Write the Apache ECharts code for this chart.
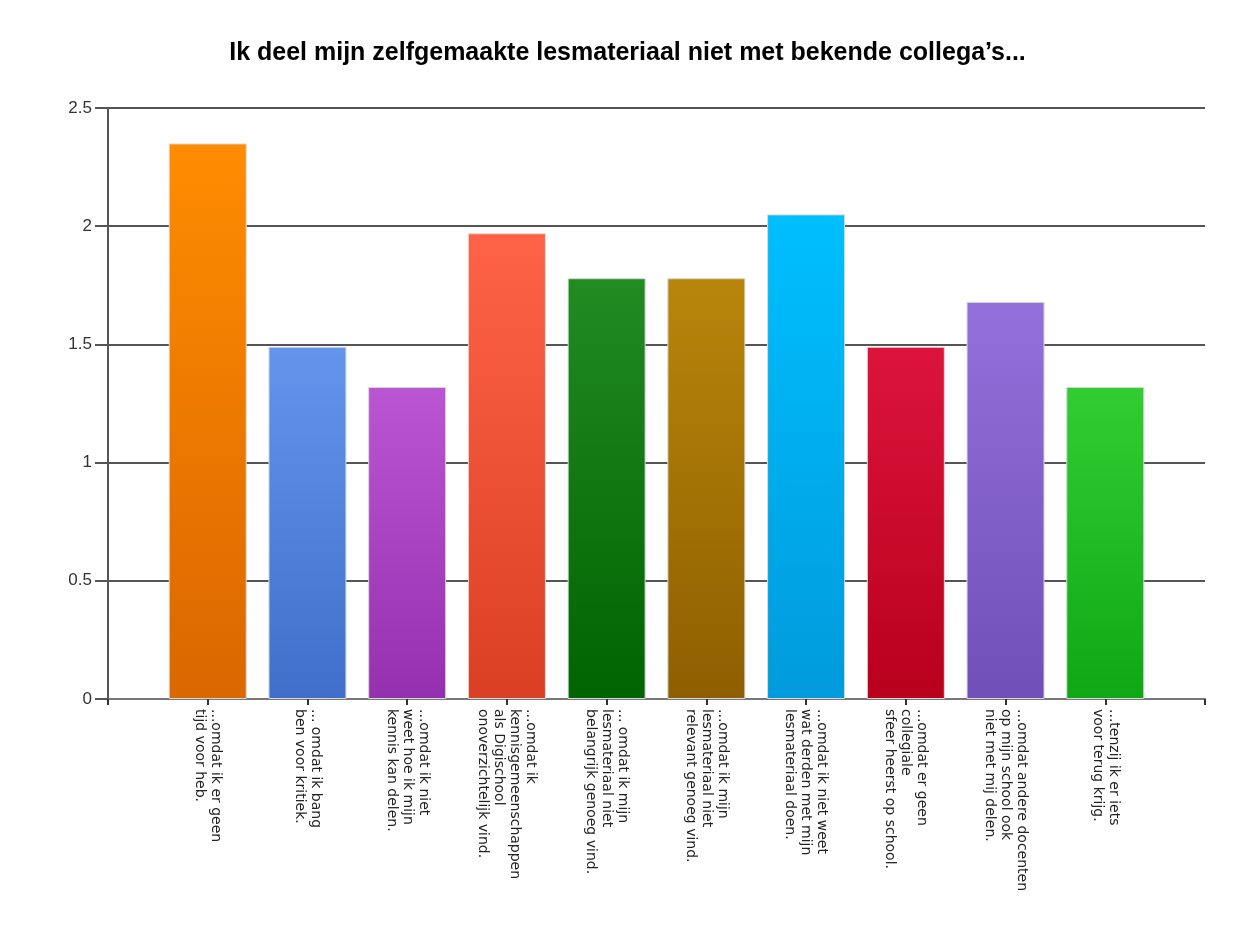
<!DOCTYPE html>
<html>
<head>
<meta charset="utf-8">
<script src="https://cdn.jsdelivr.net/npm/echarts@6/dist/echarts.min.js"></script>
<style>html,body{margin:0;padding:0;background:#fff;}#chart{width:1255px;height:930px;}</style>
</head>
<body>
<div id="chart"></div>
<script>
var titleText = "Ik deel mijn zelfgemaakte lesmateriaal niet met bekende collega\u2019s...";
var categories = [
  "...omdat ik er geen\ntijd voor heb.",
  "... omdat ik bang\nben voor kritiek.",
  "...omdat ik niet\nweet hoe ik mijn\nkennis kan delen.",
  "...omdat ik\nkennisgemeenschappen\nals Digischool\nonoverzichtelijk vind.",
  "... omdat ik mijn\nlesmateriaal niet\nbelangrijk genoeg vind.",
  "...omdat ik mijn\nlesmateriaal niet\nrelevant genoeg vind.",
  "...omdat ik niet weet\nwat derden met mijn\nlesmateriaal doen.",
  "...omdat er geen\ncollegiale\nsfeer heerst op school.",
  "...omdat andere docenten\nop mijn school ook\nniet met mij delen.",
  "...tenzij ik er iets\nvoor terug krijg."
];
var values = [2.35, 1.49, 1.32, 1.97, 1.78, 1.78, 2.05, 1.49, 1.68, 1.32];
var topColors = ["#FF8C00", "#6495ED", "#BA55D3", "#FF6347", "#228B22", "#B8860B", "#00BFFF", "#DC143C", "#9370DB", "#32CD32"];
var bottomColors = ["#DA6700", "#3F6FCA", "#9530B0", "#DA3F24", "#006400", "#8E5F00", "#009BDC", "#B8001D", "#714FB8", "#0FA815"];

var chart = echarts.init(document.getElementById('chart'));
var xData = [''].concat(categories).concat(['']);
var barData = [null].concat(values.map(function (v, i) {
  return {
    value: v,
    itemStyle: {
      color: new echarts.graphic.LinearGradient(0, 0, 0, 1, [
        {offset: 0, color: topColors[i]},
        {offset: 1, color: bottomColors[i]}
      ]),
      borderColor: '#d8d8d8',
      borderWidth: 1
    }
  };
})).concat([null]);

chart.setOption({
  backgroundColor: '#ffffff',
  animation: false,
  title: {
    text: titleText,
    left: 'center',
    top: 36,
    textStyle: {fontFamily: 'Liberation Sans, Arial, sans-serif', fontSize: 25, fontWeight: 'bold', color: '#000'}
  },
  grid: {left: 108, right: 50, top: 108, bottom: 231, containLabel: false},
  xAxis: {
    type: 'category',
    data: xData,
    boundaryGap: false,
    axisLine: {show: true, lineStyle: {color: '#777', width: 2}},
    axisTick: {show: true, interval: 0, length: 6, lineStyle: {color: '#333', width: 2}},
    axisLabel: {
      interval: 0,
      rotate: -90,
      margin: 10,
      fontFamily: 'DejaVu Sans, sans-serif',
      fontSize: 14,
      lineHeight: 16,
      color: '#222'
    },
    splitLine: {show: false}
  },
  yAxis: {
    type: 'value',
    min: 0,
    max: 2.5,
    interval: 0.5,
    axisLine: {show: true, lineStyle: {color: '#555', width: 2}},
    axisTick: {show: true, length: 13, lineStyle: {color: '#555', width: 2}},
    axisLabel: {margin: 16, fontFamily: 'Liberation Sans, Arial, sans-serif', fontSize: 17, color: '#333'},
    splitLine: {show: true, lineStyle: {color: '#555', width: 2}}
  },
  series: [{
    type: 'bar',
    data: barData,
    barWidth: 78
  }]
});
</script>
</body>
</html>
